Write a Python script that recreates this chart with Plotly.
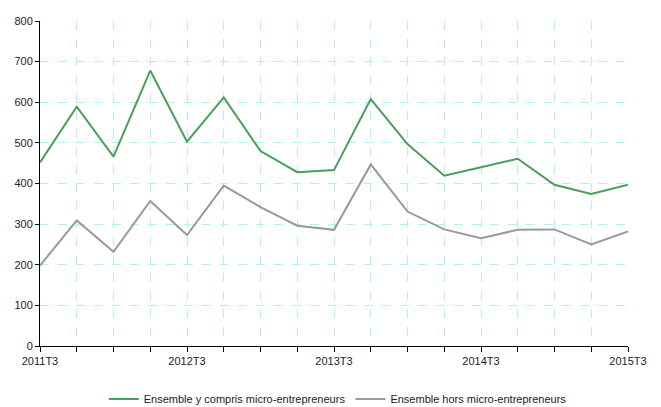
import plotly.graph_objects as go

quarters = ["2011T3", "2011T4", "2012T1", "2012T2", "2012T3", "2012T4", "2013T1", "2013T2",
            "2013T3", "2013T4", "2014T1", "2014T2", "2014T3", "2014T4", "2015T1", "2015T2", "2015T3"]
avec_micro = [452, 589, 466, 678, 503, 612, 480, 428, 433, 608, 497, 419, 440, 461, 397, 374, 397]
hors_micro = [198, 309, 232, 357, 273, 395, 342, 296, 286, 447, 331, 287, 265, 286, 287, 250, 282]
series_names = ["Ensemble y compris micro-entrepreneurs", "Ensemble hors micro-entrepreneurs"]
colors = ["#4a9e5a", "#999999"]

x_idx = list(range(len(quarters)))
tick_text = [q if i % 4 == 0 else "" for i, q in enumerate(quarters)]

fig = go.Figure()
for vals, name, col in zip([avec_micro, hors_micro], series_names, colors):
    fig.add_trace(go.Scatter(x=x_idx, y=vals, mode="lines", name=name,
                             line=dict(color=col, width=2)))

fig.update_layout(
    width=653, height=399,
    margin=dict(l=32, r=33, t=13, b=61, autoexpand=False),
    paper_bgcolor="white", plot_bgcolor="white",
    font=dict(family="Liberation Sans, Arial, sans-serif", size=11, color="#222222"),
    showlegend=True,
    legend=dict(orientation="h", x=0.505, xanchor="center", xref="container",
                y=0.02, yanchor="middle", yref="container",
                font=dict(size=11, color="#222222"), itemwidth=30,
                bgcolor="rgba(0,0,0,0)"),
)
fig.update_xaxes(
    range=[0, len(quarters) - 1], tickmode="array", tickvals=x_idx, ticktext=tick_text,
    showgrid=True, gridcolor="#b0f0fa", griddash="dash", gridwidth=1,
    showline=True, linecolor="black", linewidth=1, automargin=False,
    ticks="outside", ticklen=5, tickcolor="black", zeroline=False,
)
fig.update_yaxes(
    range=[0, 800], dtick=100, tick0=0,
    showgrid=True, gridcolor="#b0f0fa", griddash="dash", gridwidth=1,
    showline=True, linecolor="black", linewidth=1, automargin=False,
    ticks="outside", ticklen=4, tickcolor="black", zeroline=False,
)

fig.write_html("out.html")
